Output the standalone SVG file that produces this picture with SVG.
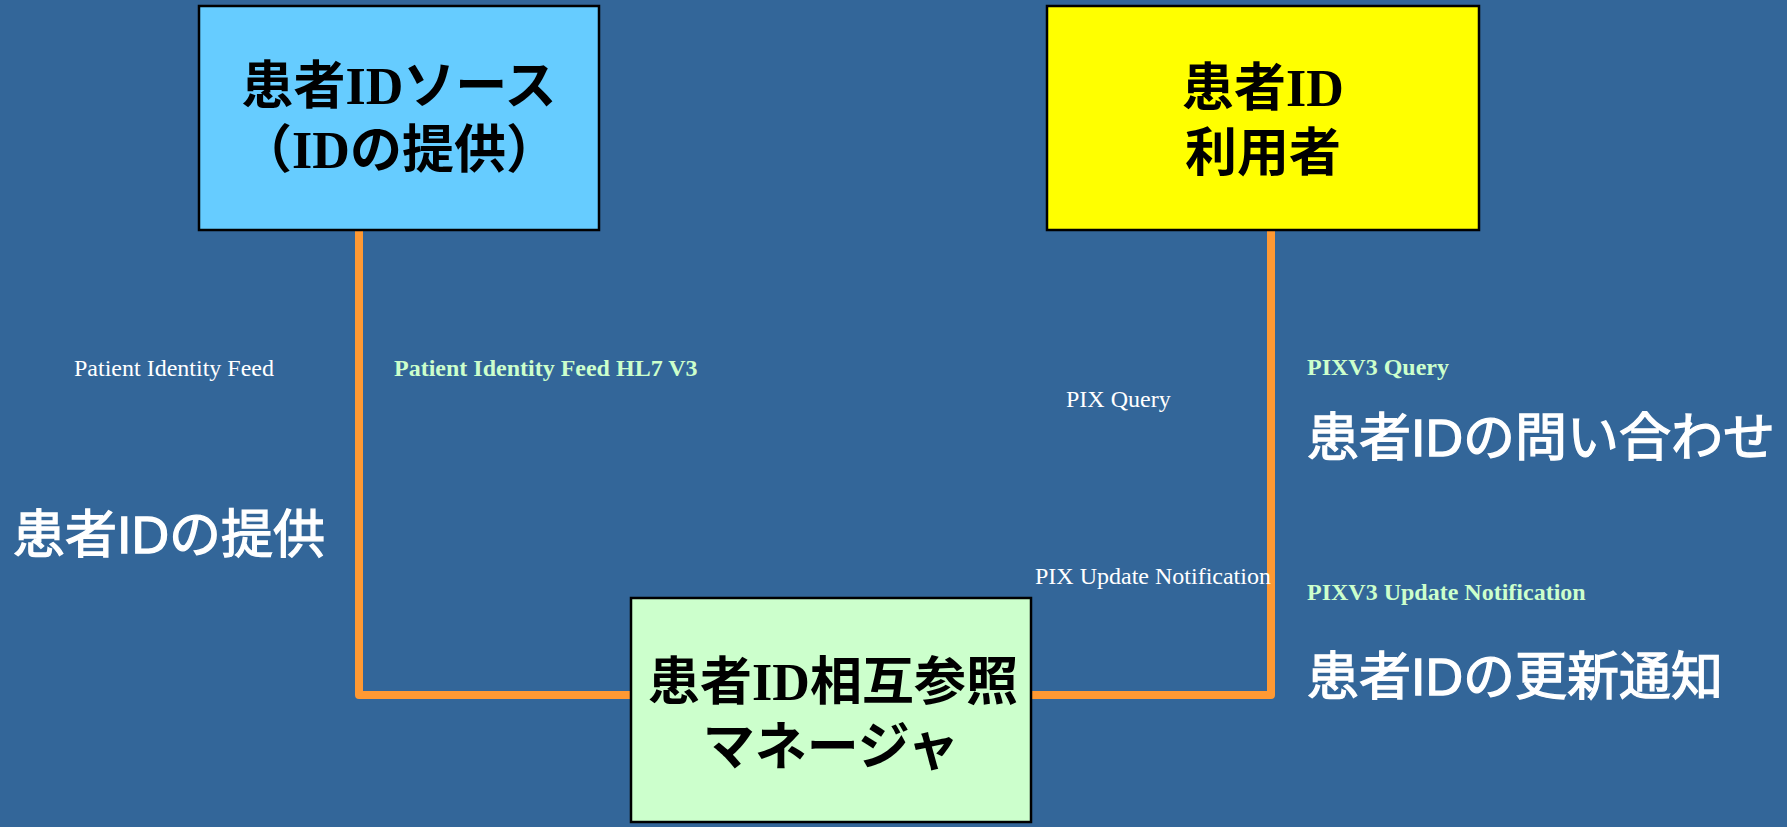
<svg xmlns="http://www.w3.org/2000/svg" width="1787" height="827" viewBox="0 0 1787 827">
<style>
.node{stroke:#000;stroke-width:2.5}
.nt{font-family:"Liberation Serif","Noto Sans CJK JP",serif;font-weight:bold;font-size:52px;fill:#000;text-anchor:middle}
.conn{fill:none;stroke:#FF9933;stroke-width:8;stroke-linejoin:round}
.lbl{font-family:"Liberation Serif",serif;font-size:24px;fill:#fff}
.lblg{font-family:"Liberation Serif",serif;font-size:24px;font-weight:bold;fill:#CCFFCC}
.jp{font-family:"Liberation Sans","Noto Sans CJK JP",sans-serif;font-size:52px;fill:#fff;stroke:#fff;stroke-width:1.3}
</style>
<rect x="0" y="0" width="1787" height="827" fill="#336699"/>
<g id="connectors">
<path class="conn" d="M359,230 L359,695 L631,695"/>
<path class="conn" d="M1031,695 L1271,695 L1271,230"/>
</g>
<g id="source">
<rect class="node" x="199" y="6" width="400" height="224" fill="#66CCFF"/>
<text class="nt" x="399" y="104" font-size="51">患者IDソース</text>
<text class="nt" x="399" y="168" font-size="51">（IDの提供）</text>
</g>
<g id="consumer">
<rect class="node" x="1047" y="6" width="432" height="224" fill="#FFFF00"/>
<text class="nt" x="1263" y="106">患者ID</text>
<text class="nt" x="1263" y="171">利用者</text>
</g>
<g id="manager">
<rect class="node" x="631" y="598" width="400" height="224" fill="#CCFFCC"/>
<text class="nt" x="833" y="700">患者ID相互参照</text>
<text class="nt" x="831" y="765">マネージャ</text>
</g>
<g id="labels">
<text class="lbl" x="74" y="376">Patient Identity Feed</text>
<text class="lblg" x="394" y="376">Patient Identity Feed HL7 V3</text>
<text class="jp" x="13" y="553">患者IDの提供</text>
<text class="lbl" x="1066" y="407">PIX Query</text>
<text class="lblg" x="1307" y="375">PIXV3 Query</text>
<text class="jp" x="1307" y="456">患者IDの問い合わせ</text>
<text class="lbl" x="1035" y="584">PIX Update Notification</text>
<text class="lblg" x="1307" y="600">PIXV3 Update Notification</text>
<text class="jp" x="1307" y="695">患者IDの更新通知</text>
</g>
</svg>
